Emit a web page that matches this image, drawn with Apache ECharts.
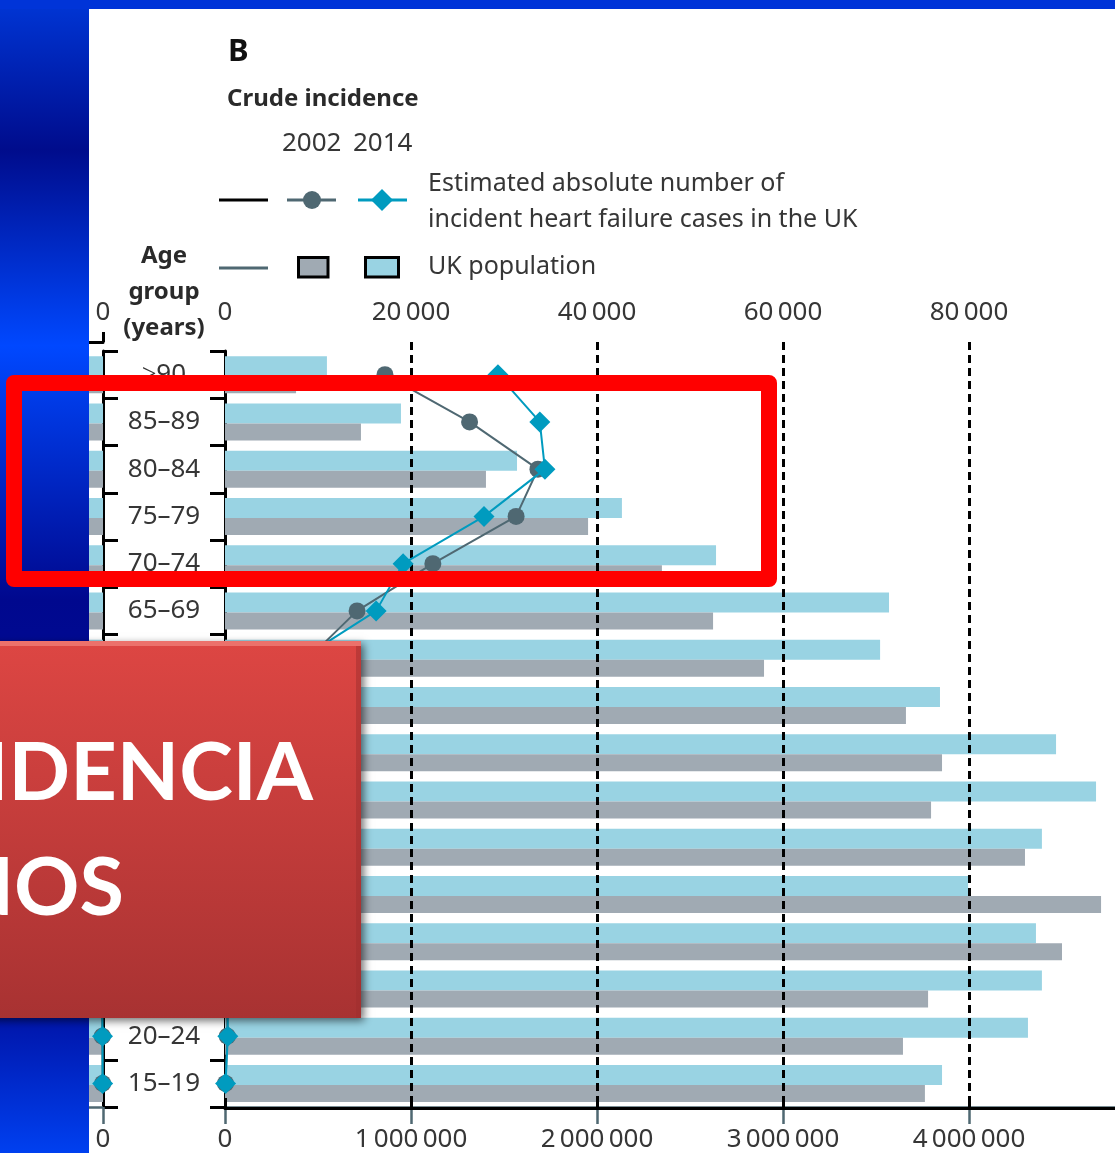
<!DOCTYPE html>
<html><head><meta charset="utf-8">
<script src="https://cdn.jsdelivr.net/npm/echarts@6/dist/echarts.min.js"></script>
<style>html,body{margin:0;padding:0;background:#fff}#c{width:1115px;height:1153px}</style>
</head><body><div id="c"></div>
<script>
// ---- data ----
const ageGroups = ['≥90','85–89','80–84','75–79','70–74','65–69','60–64','55–59','50–54','45–49','40–44','35–39','30–34','25–29','20–24','15–19'];
// UK population (persons)
const population2014 = [548000, 946000, 1570000, 2134000, 2640000, 3570000, 3522000, 3844000, 4468000, 4683000, 4392000, 3995000, 4360000, 4392000, 4317000, 3855000];
const population2002 = [382000, 731000, 1403000, 1952000, 2349000, 2624000, 2898000, 3661000, 3855000, 3796000, 4301000, 4710000, 4500000, 3780000, 3645000, 3763000];
// Estimated absolute number of incident heart failure cases in the UK
const cases2002 = [17200, 26300, 33650, 31300, 22350, 14200, 9000, 5800, 3800, 2400, 1400, 800, 450, 250, 250, 50];
const cases2014 = [29350, 33850, 34400, 27850, 19150, 16250, 8300, 5600, 3700, 2500, 1400, 700, 450, 280, 300, 60];
// Crude incidence (per 100 000 person-years) – left panel, mostly outside the visible area
const crude2002 = [4000, 2800, 1700, 1000, 600, 350, 200, 120, 70, 40, 20, 12, 8, 5, 4, 2];
const crude2014 = [3800, 2600, 1600, 950, 560, 330, 190, 110, 65, 38, 19, 11, 7, 5, 3, 2];
// left panel row bands run past the visible edge
const leftBand2014 = [600,600,600,600,600,600,600,600,600,600,600,600,600,600,600,600];
const leftBand2002 = [600,600,600,600,600,600,600,600,600,600,600,600,600,600,600,600];
const casesTicks = [0, 20000, 40000, 60000, 80000];
const populationTicks = [0, 1000000, 2000000, 3000000, 4000000];

const FONT = 'Noto Sans';
const TXT = '#363636';
const BLUE = '#99D3E3', GREY = '#A0AAB3', LGREY = '#4F6872', CYAN = '#009BBF';
const fmt = v => String(v).replace(/\B(?=(\d{3})+(?!\d))/g, '\u2009');

const chart = echarts.init(document.getElementById('c'), null, {renderer: 'canvas'});

const leftStrip = new echarts.graphic.LinearGradient(0, 0, 0, 1, [
  {offset: 0, color: '#0036D6'},
  {offset: 0.13, color: '#000C8C'},
  {offset: 0.30, color: '#0048FF'},
  {offset: 0.52, color: '#00088E'},
  {offset: 0.88, color: '#0014A8'},
  {offset: 1, color: '#0040F0'}
]);
const bannerFill = new echarts.graphic.LinearGradient(0, 0, 0, 1, [
  {offset: 0, color: '#DD4643'},
  {offset: 1, color: '#A83232'}
]);

function diamondPts(cx, cy, h) { return [[cx, cy - h], [cx + h, cy], [cx, cy + h], [cx - h, cy]]; }

const option = {
  animation: false,
  backgroundColor: '#ffffff',
  textStyle: {fontFamily: FONT},
  grid: [
    {left: 225, top: 351, width: 930, height: 756, outerBoundsMode: 'none', containLabel: false},   // main
    {left: 225, top: 342, width: 930, height: 766, outerBoundsMode: 'none', containLabel: false},   // top cases axis + dashed grid
    {left: 0, top: 351, width: 103, height: 756, outerBoundsMode: 'none', containLabel: false}      // left panel
  ],
  xAxis: [
    { // 0 population (bottom)
      gridIndex: 0, type: 'value', position: 'bottom', min: 0, max: 5000000, interval: 1000000,
      axisLine: {show: true, lineStyle: {color: LGREY, width: 2.5}},
      axisTick: {show: true, length: 17, lineStyle: {color: LGREY, width: 2.5}},
      axisLabel: {fontSize: 26, color: TXT, fontFamily: FONT, margin: 20,
        formatter: v => populationTicks.indexOf(v) >= 0 ? fmt(v) : ''},
      splitLine: {show: false}
    },
    { // 1 cases (hidden, for plotting)
      gridIndex: 0, type: 'value', position: 'top', min: 0, max: 100000, show: false
    },
    { // 2 left panel bottom
      gridIndex: 2, type: 'value', position: 'bottom', inverse: true, min: 0, max: 600, interval: 600,
      axisLine: {show: true, lineStyle: {color: LGREY, width: 2.5}},
      axisTick: {show: true, length: 17, lineStyle: {color: LGREY, width: 2.5}},
      axisLabel: {fontSize: 26, color: TXT, fontFamily: FONT, margin: 20, formatter: v => v === 0 ? '0' : ''},
      splitLine: {show: false}
    },
    { // 3 left panel top
      gridIndex: 2, type: 'value', position: 'top', offset: 9, inverse: true, min: 0, max: 600, interval: 600,
      axisLine: {show: true, lineStyle: {color: '#000', width: 3}},
      axisTick: {show: true, length: 10, lineStyle: {color: '#000', width: 3}},
      axisLabel: {fontSize: 26, color: TXT, fontFamily: FONT, margin: 16, formatter: v => v === 0 ? '0' : ''},
      splitLine: {show: false}
    },
    { // 4 cases visible (top) with dashed grid lines
      gridIndex: 1, type: 'value', position: 'top', min: 0, max: 100000, interval: 20000, z: 3,
      axisLine: {show: true, lineStyle: {color: '#000', width: 3}},
      axisTick: {show: true, length: 10, lineStyle: {color: '#000', width: 3}},
      axisLabel: {fontSize: 26, color: TXT, fontFamily: FONT, margin: 16,
        formatter: v => casesTicks.indexOf(v) >= 0 ? fmt(v) : ''},
      splitLine: {show: true, showMinLine: false, showMaxLine: false, lineStyle: {color: '#000', width: 3, type: [8, 5]}}
    }
  ],
  yAxis: [
    { // 0 main categories
      gridIndex: 0, type: 'category', inverse: true, data: ageGroups, position: 'left',
      axisLine: {show: true, lineStyle: {color: '#000', width: 3}},
      axisTick: {show: true, length: 15, lineStyle: {color: '#000', width: 3}},
      axisLabel: {fontSize: 26, color: TXT, fontFamily: FONT, margin: 61, align: 'center'}
    },
    { // 1 left panel categories
      gridIndex: 2, type: 'category', inverse: true, data: ageGroups, position: 'right',
      axisLine: {show: true, lineStyle: {color: '#000', width: 3}},
      axisTick: {show: true, length: 15, lineStyle: {color: '#000', width: 3}},
      axisLabel: {show: false}
    },
    { // 2 dummy for grid 1
      gridIndex: 1, type: 'value', min: 0, max: 1, show: false
    }
  ],
  series: [
    {name: 'UK population 2014', type: 'bar', xAxisIndex: 0, yAxisIndex: 0, data: population2014,
      barWidth: 20, barGap: '0%', itemStyle: {color: BLUE}, z: 2},
    {name: 'UK population 2002', type: 'bar', xAxisIndex: 0, yAxisIndex: 0, data: population2002,
      barWidth: 17, barGap: '0%', itemStyle: {color: GREY}, z: 2},
    {name: 'left band 2014', type: 'bar', xAxisIndex: 2, yAxisIndex: 1, data: leftBand2014,
      barWidth: 20, barGap: '0%', itemStyle: {color: BLUE}, z: 2},
    {name: 'left band 2002', type: 'bar', xAxisIndex: 2, yAxisIndex: 1, data: leftBand2002,
      barWidth: 17, barGap: '0%', itemStyle: {color: GREY}, z: 2},
    {name: 'Cases 2002', type: 'line', xAxisIndex: 1, yAxisIndex: 0, data: cases2002,
      symbol: 'circle', symbolSize: 17, lineStyle: {color: LGREY, width: 2}, itemStyle: {color: LGREY}, z: 5},
    {name: 'Cases 2014', type: 'line', xAxisIndex: 1, yAxisIndex: 0, data: cases2014,
      symbol: 'diamond', symbolSize: 21, lineStyle: {color: CYAN, width: 2}, itemStyle: {color: CYAN}, z: 6},
    {name: 'Crude 2002', type: 'line', xAxisIndex: 2, yAxisIndex: 1, data: crude2002,
      symbol: 'circle', symbolSize: 17, lineStyle: {color: LGREY, width: 2}, itemStyle: {color: LGREY}, z: 5},
    {name: 'Crude 2014', type: 'line', xAxisIndex: 2, yAxisIndex: 1, data: crude2014,
      symbol: 'diamond', symbolSize: 21, lineStyle: {color: CYAN, width: 2}, itemStyle: {color: CYAN}, z: 6}
  ],
  graphic: [
    // header texts
    {type: 'text', left: 228, top: 37, style: {text: 'B', font: 'bold 31px "Noto Sans"', fill: '#111'}},
    {type: 'text', x: 227, y: 99, style: {text: 'Crude incidence', font: 'bold 24px "Noto Sans"', fill: '#2a2a2a', textVerticalAlign: 'middle'}},
    {type: 'text', x: 282, y: 144, style: {text: '2002', font: '26px "Noto Sans"', fill: TXT, textVerticalAlign: 'middle'}},
    {type: 'text', x: 353, y: 144, style: {text: '2014', font: '26px "Noto Sans"', fill: TXT, textVerticalAlign: 'middle'}},
    // legend row 1
    {type: 'line', shape: {x1: 219, y1: 200, x2: 268, y2: 200}, style: {stroke: '#000', lineWidth: 3}},
    {type: 'line', shape: {x1: 287, y1: 200, x2: 336, y2: 200}, style: {stroke: LGREY, lineWidth: 3}},
    {type: 'circle', shape: {cx: 312, cy: 200, r: 9}, style: {fill: LGREY}},
    {type: 'line', shape: {x1: 358, y1: 200, x2: 407, y2: 200}, style: {stroke: CYAN, lineWidth: 3}},
    {type: 'polygon', shape: {points: diamondPts(382, 200, 11)}, style: {fill: CYAN}},
    {type: 'text', x: 428, y: 184, style: {text: 'Estimated absolute number of', font: '25px "Noto Sans"', fill: TXT, textVerticalAlign: 'middle'}},
    {type: 'text', x: 428, y: 220, style: {text: 'incident heart failure cases in the UK', font: '25px "Noto Sans"', fill: TXT, textVerticalAlign: 'middle'}},
    // legend row 2
    {type: 'line', shape: {x1: 219, y1: 268, x2: 268, y2: 268}, style: {stroke: LGREY, lineWidth: 3}},
    {type: 'rect', shape: {x: 298.5, y: 257.5, width: 29.5, height: 19.5}, style: {fill: GREY, stroke: '#000', lineWidth: 3}},
    {type: 'rect', shape: {x: 365.5, y: 257.5, width: 33, height: 19.5}, style: {fill: BLUE, stroke: '#000', lineWidth: 3}},
    {type: 'text', x: 428, y: 267, style: {text: 'UK population', font: '25px "Noto Sans"', fill: TXT, textVerticalAlign: 'middle'}},
    // age group title
    {type: 'text', x: 164, y: 256, style: {text: 'Age', font: 'bold 24px "Noto Sans"', fill: '#2a2a2a', textAlign: 'center', textVerticalAlign: 'middle'}},
    {type: 'text', x: 164, y: 292, style: {text: 'group', font: 'bold 24px "Noto Sans"', fill: '#2a2a2a', textAlign: 'center', textVerticalAlign: 'middle'}},
    {type: 'text', x: 164, y: 328, style: {text: '(years)', font: 'bold 24px "Noto Sans"', fill: '#2a2a2a', textAlign: 'center', textVerticalAlign: 'middle'}},
    // slide frame overlays
    {type: 'rect', z: 100, shape: {x: 0, y: 0, width: 89, height: 1153}, style: {fill: leftStrip}},
    {type: 'rect', z: 100, shape: {x: 0, y: 0, width: 1115, height: 9}, style: {fill: '#0034D8'}},
    {type: 'rect', z: 101, shape: {x: 14, y: 383, width: 755, height: 196}, style: {fill: 'none', stroke: '#FF0000', lineWidth: 16, lineJoin: 'round'}},
    // red banner
    {type: 'rect', z: 102, shape: {x: -20, y: 641, width: 381, height: 377},
      style: {fill: bannerFill, shadowBlur: 8, shadowColor: 'rgba(0,0,0,0.55)', shadowOffsetX: 3, shadowOffsetY: 3}},
    {type: 'rect', z: 103, shape: {x: -20, y: 641, width: 381, height: 5}, style: {fill: '#F07C76', opacity: 0.8}},
    {type: 'rect', z: 103, shape: {x: 356, y: 646, width: 5, height: 372}, style: {fill: '#9E2E2E', opacity: 0.5}},
    {type: 'text', z: 104, x: 313, y: 774, style: {text: 'INCIDENCIA', font: 'bold 81px Lato', fill: '#ffffff', textAlign: 'right', textVerticalAlign: 'middle'}},
    {type: 'text', z: 104, x: 124, y: 889, style: {text: 'AÑOS', font: 'bold 81px Lato', fill: '#ffffff', textAlign: 'right', textVerticalAlign: 'middle'}}
  ]
};
chart.setOption(option);
</script>
</body></html>
